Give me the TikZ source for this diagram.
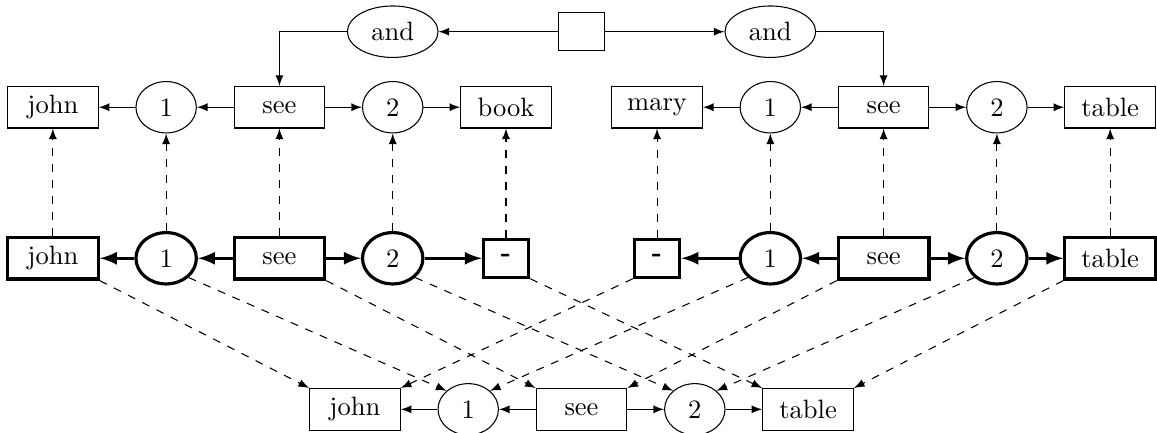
\documentclass[tikz,border=0pt]{standalone}
\usetikzlibrary{shapes.geometric}
\begin{document}
\begin{tikzpicture}[
    word/.style={draw, minimum width=1.2cm, minimum height=0.55cm},
    arg/.style={draw, ellipse, minimum width=0.8cm, minimum height=0.68cm},
    blank/.style={draw, minimum width=0.6cm, minimum height=0.5cm},
    conj/.style={draw, ellipse, minimum width=1.2cm, minimum height=0.66cm},
    rel/.style={-latex},
    link/.style={-latex, dashed}
]
    \useasboundingbox (-7.7, -5.31) rectangle (7.62, 0.42);

    % 合取
    \node[blank] (root) at (0, 0) {};
    \node[conj] (andL) at (-2.5, 0) {and};
    \node[conj] (andR) at (2.5, 0) {and};
    \draw[rel] (root) -- (andL);
    \draw[rel] (root) -- (andR);

    % 两个句子
    \node[word] (john) at (-7, -1) {john};
    \node[arg] (agL1) at (-5.5, -1) {1};
    \node[word] (seeL) at (-4, -1) {see};
    \node[arg] (agL2) at (-2.5, -1) {2};
    \node[word] (book) at (-1, -1) {book};
    \node[word] (mary) at (1, -1) {mary};
    \node[arg] (agR1) at (2.5, -1) {1};
    \node[word] (seeR) at (4, -1) {see};
    \node[arg] (agR2) at (5.5, -1) {2};
    \node[word] (table) at (7, -1) {table};
    \draw[rel] (andL.west) -| (seeL.north);
    \draw[rel] (andR.east) -| (seeR.north);
    \draw[rel] (seeL) -- (agL1);
    \draw[rel] (agL1) -- (john);
    \draw[rel] (seeL) -- (agL2);
    \draw[rel] (agL2) -- (book);
    \draw[rel] (seeR) -- (agR1);
    \draw[rel] (agR1) -- (mary);
    \draw[rel] (seeR) -- (agR2);
    \draw[rel] (agR2) -- (table);

    % 中间层（粗线）
    \begin{scope}[very thick]
        \node[word] (mjohn) at (-7, -3) {john};
        \node[arg] (mL1) at (-5.5, -3) {1};
        \node[word] (mseeL) at (-4, -3) {see};
        \node[arg] (mL2) at (-2.5, -3) {2};
        \node[blank] (mgapL) at (-1, -3) {\textbf{-}};
        \node[blank] (mgapR) at (1, -3) {\textbf{-}};
        \node[arg] (mR1) at (2.5, -3) {1};
        \node[word] (mseeR) at (4, -3) {see};
        \node[arg] (mR2) at (5.5, -3) {2};
        \node[word] (mtable) at (7, -3) {table};
        \draw[rel] (mseeL) -- (mL1);
        \draw[rel] (mL1) -- (mjohn);
        \draw[rel] (mseeL) -- (mL2);
        \draw[rel] (mL2) -- (mgapL);
        \draw[rel] (mseeR) -- (mR1);
        \draw[rel] (mR1) -- (mgapR);
        \draw[rel] (mseeR) -- (mR2);
        \draw[rel] (mR2) -- (mtable);
    \end{scope}

    % 结果
    \node[word] (rjohn) at (-3, -5) {john};
    \node[arg] (r1) at (-1.5, -5) {1};
    \node[word] (rsee) at (0, -5) {see};
    \node[arg] (r2) at (1.5, -5) {2};
    \node[word] (rtable) at (3, -5) {table};
    \draw[rel] (rsee) -- (r1);
    \draw[rel] (r1) -- (rjohn);
    \draw[rel] (rsee) -- (r2);
    \draw[rel] (r2) -- (rtable);

    % 向上的映射
    \draw[link] (mjohn) -- (john);
    \draw[link] (mL1) -- (agL1);
    \draw[link] (mseeL) -- (seeL);
    \draw[link] (mL2) -- (agL2);
    \draw[link] (mgapL) -- (book);
    \draw[link] (mgapR) -- (mary);
    \draw[link] (mR1) -- (agR1);
    \draw[link] (mseeR) -- (seeR);
    \draw[link] (mR2) -- (agR2);
    \draw[link] (mtable) -- (table);

    % 向下的映射
    \draw[link] (mjohn.south east) -- (rjohn.north west);
    \draw[link] (mL1.south east) -- (r1.north west);
    \draw[link] (mseeL.south east) -- (rsee.north west);
    \draw[link] (mL2.south east) -- (r2.north west);
    \draw[link] (mgapL.south east) -- (rtable.north west);
    \draw[link] (mgapR.south west) -- (rjohn.north east);
    \draw[link] (mR1.south west) -- (r1.north east);
    \draw[link] (mseeR.south west) -- (rsee.north east);
    \draw[link] (mR2.south west) -- (r2.north east);
    \draw[link] (mtable.south west) -- (rtable.north east);
\end{tikzpicture}
\end{document}
